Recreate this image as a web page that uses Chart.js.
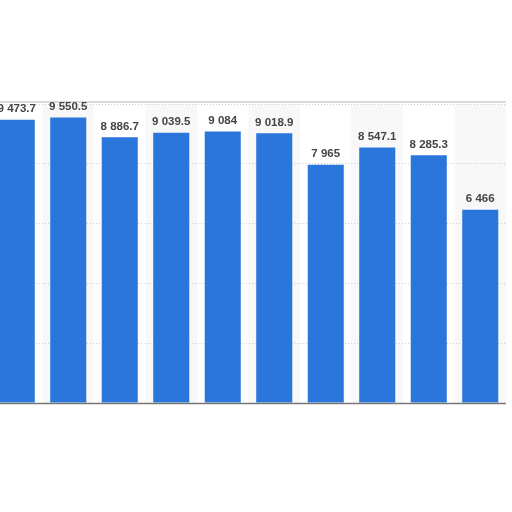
<!DOCTYPE html>
<html>
<head>
<meta charset="utf-8">
<script src="https://cdn.jsdelivr.net/npm/chart.js@4.4.1/dist/chart.umd.min.js"></script>
<style>
    html, body { margin: 0; padding: 0; background: #fff; overflow: hidden; }
    #wrap { position: absolute; left: -9px; top: 0; width: 515px; height: 512px; }
</style>
</head>
<body>
<div id="wrap"><canvas id="chart"></canvas></div>
<script>
// categories are cut off in the picture, only their order is known
const categorias = ["1", "2", "3", "4", "5", "6", "7", "8", "9", "10"];
const valores = [9473.7, 9550.5, 8886.7, 9039.5, 9084, 9018.9, 7965, 8547.1, 8285.3, 6466];
const yTicks = [0, 2000, 4000, 6000, 8000, 10000];

const formatar = v => {
    let partes = v.toString().split(".");
    partes[0] = partes[0].replace(/\B(?=(\d{3})+(?!\d))/g, " ");
    return partes.join(".");
};

// faixas alternadas atras das colunas
const faixas = {
    id: "faixas",
    beforeDraw(chart) {
        const ctx = chart.ctx, area = chart.chartArea, x = chart.scales.x;
        const w = x.getPixelForValue(1) - x.getPixelForValue(0);
        ctx.save();
        ctx.fillStyle = "#f8f8f8";
        categorias.forEach((c, i) => {
            if (i % 2 == 1) {
                ctx.fillRect(x.getPixelForValue(i) - w / 2, area.top, w, area.bottom - area.top);
            }
        });
        // linha de topo
        ctx.strokeStyle = "#cccccc";
        ctx.lineWidth = 1.5;
        ctx.beginPath();
        ctx.moveTo(area.left, area.top - 2);
        ctx.lineTo(area.right, area.top - 2);
        ctx.stroke();
        ctx.restore();
    }
};

const rotulos = {
    id: "rotulos",
    afterDatasetsDraw(chart) {
        const ctx = chart.ctx;
        ctx.save();
        ctx.font = "bold 11.5px 'Liberation Sans', Arial, sans-serif";
        ctx.fillStyle = "#444444";
        ctx.textAlign = "center";
        ctx.textBaseline = "bottom";
        chart.getDatasetMeta(0).data.forEach((bar, i) => {
            ctx.fillText(formatar(valores[i]), bar.x, bar.y - 5);
        });
        // linha do eixo
        const area = chart.chartArea;
        ctx.strokeStyle = "#777";
        ctx.lineWidth = 1.5;
        ctx.beginPath();
        ctx.moveTo(area.left, area.bottom + 0.5);
        ctx.lineTo(area.right, area.bottom + 0.5);
        ctx.stroke();
        ctx.restore();
    }
};

new Chart(document.querySelector("#chart"), {
    type: "bar",
    data: {
        labels: categorias,
        datasets: [{
            data: valores,
            backgroundColor: "#2a76da",
            barPercentage: 0.7,
            categoryPercentage: 1
        }]
    },
    options: {
        responsive: true,
        maintainAspectRatio: false,
        animation: false,
        layout: { padding: { left: 0, right: 0, top: 104, bottom: 109 } },
        plugins: { legend: { display: false }, tooltip: { enabled: false } },
        scales: {
            x: {
                display: false
            },
            y: {
                min: 0,
                max: 10000,
                display: true,
                afterBuildTicks: axis => { axis.ticks = yTicks.map(v => ({ value: v })); },
                ticks: { display: false },
                border: { display: false, dash: [1, 2] },
                grid: { color: "#cfcfcf", lineWidth: 1, tickLength: 0 }
            }
        }
    },
    plugins: [faixas, rotulos]
});
</script>
</body>
</html>
